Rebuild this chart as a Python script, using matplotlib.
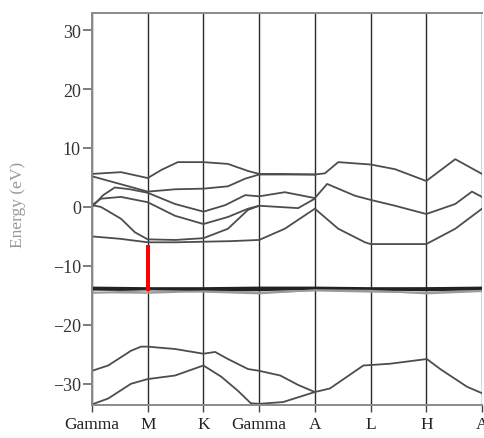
import numpy as np
import matplotlib.pyplot as plt

plt.rcParams['font.family'] = ['Liberation Serif', 'DejaVu Serif']

# high-symmetry path, equally spaced segments
kpoints = [0, 1, 2, 3, 4, 5, 6, 7]
klabels = ['Gamma', 'M', 'K', 'Gamma', 'A', 'L', 'H', 'A']

# valence / conduction bands near the gap (k, E in eV)
b1_k = [0, 0.52, 1, 1.25, 1.54, 2, 2.44, 2.8, 3, 3.38, 4, 4.18, 4.42, 5, 5.44, 6, 6.52, 7]
b1_e = [5.6, 5.9, 4.9, 6.3, 7.6, 7.6, 7.3, 6.1, 5.6, 5.6, 5.5, 5.7, 7.6, 7.2, 6.4, 4.4, 8.1, 5.6]

b2_k = [0, 0.5, 1, 1.5, 2, 2.44, 2.75, 3, 4]
b2_e = [5.2, 3.9, 2.6, 3.0, 3.1, 3.5, 4.8, 5.5, 5.5]

b3_k = [0, 0.2, 0.41, 0.68, 1, 1.49, 2, 2.39, 2.75, 3, 3.46, 4, 4.22, 4.72, 5, 5.44, 6, 6.52, 6.82, 7]
b3_e = [0.0, 2.0, 3.3, 3.0, 2.4, 0.5, -0.8, 0.3, 2.0, 1.8, 2.5, 1.5, 3.9, 1.9, 1.2, 0.2, -1.2, 0.5, 2.6, 1.7]

b4_k = [0, 0.16, 0.52, 1, 1.49, 2, 2.44, 2.8, 3, 3.7, 4]
b4_e = [0.3, 1.4, 1.7, 0.8, -1.5, -2.9, -1.7, -0.3, 0.2, -0.2, 1.4]

b5_k = [0, 0.16, 0.52, 0.77, 1, 1.5, 2, 2.44, 2.8, 3]
b5_e = [0.3, 0.0, -2.0, -4.3, -5.5, -5.6, -5.3, -3.7, -0.5, 0.2]

b6_k = [0, 0.5, 1, 1.5, 2, 2.5, 3, 3.46, 4, 4.42, 4.9, 5, 6, 6.52, 7]
b6_e = [-5.0, -5.4, -6.0, -6.0, -5.9, -5.8, -5.6, -3.7, -0.3, -3.7, -6.0, -6.3, -6.3, -3.7, -0.3]

# flat semicore d bands
d_k = [0, 1, 2, 3, 4, 5, 6, 7]
d1_e = [-13.7, -13.8, -13.8, -13.7, -13.7, -13.8, -13.8, -13.7]
d2_e = [-13.9, -14.0, -14.0, -13.9, -13.9, -14.0, -13.9, -13.9]
d3_e = [-14.0, -14.1, -14.2, -14.1, -13.9, -14.0, -14.1, -14.0]
d4_e = [-14.6, -14.2, -14.4, -14.7, -14.1, -14.2, -14.7, -14.3]
d5_e = [-14.5, -14.6, -14.3, -14.5, -14.2, -14.4, -14.5, -14.2]

# deep s bands
s1_k = [0, 0.29, 0.7, 0.88, 1, 1.49, 2, 2.21, 2.44, 2.8, 3, 3.38, 3.7, 4, 4.27, 4.87, 5.35, 6.01, 6.25, 6.73, 7]
s1_e = [-27.8, -26.9, -24.4, -23.7, -23.7, -24.1, -24.9, -24.6, -25.8, -27.5, -27.8, -28.6, -30.2, -31.4,
        -30.8, -26.9, -26.6, -25.8, -27.5, -30.5, -31.6]

s2_k = [0, 0.29, 0.7, 1, 1.49, 2, 2.32, 2.62, 2.85, 3, 3.43, 4]
s2_e = [-33.5, -32.5, -30.0, -29.2, -28.6, -26.9, -28.8, -31.2, -33.3, -33.4, -33.1, -31.4]

# gap marker at M
gap_k = 1
gap_top = -6.4
gap_bottom = -14.3

fig = plt.figure(figsize=(4.85, 4.39), dpi=100)
ax = fig.add_axes([92/485, 1-406/439, 390/485, 392/439])

band_color = '#4d4d4d'
bands = [(b1_k, b1_e), (b2_k, b2_e), (b3_k, b3_e), (b4_k, b4_e), (b5_k, b5_e), (b6_k, b6_e),
         (s1_k, s1_e), (s2_k, s2_e)]
for kk, ee in bands:
    ax.plot(kk, ee, color=band_color, lw=1.3)
for ee in [d1_e, d2_e, d3_e]:
    ax.plot(d_k, ee, color='#222222', lw=1.6)
for ee in [d4_e, d5_e]:
    ax.plot(d_k, ee, color='#9a9a9a', lw=1.2)

for kp in kpoints:
    ax.axvline(kp, color='#2a2a2a', lw=1.0, zorder=1)

ax.plot([gap_k, gap_k], [gap_top, gap_bottom], color='red', lw=2.9,
        solid_capstyle='butt', zorder=5)

ax.set_xlim(0, 7)
ax.set_ylim(-33.6, 32.9)
ax.set_xticks(kpoints)
ax.set_xticklabels(klabels)
ax.set_yticks([-30, -20, -10, 0, 10, 20, 30])

for side in ['left', 'top', 'bottom']:
    ax.spines[side].set_color('#8a8a8a')
    ax.spines[side].set_linewidth(1.4)
ax.spines['right'].set_visible(False)

ax.tick_params(axis='y', direction='out', length=6.5, width=1.2, color='#666666',
               labelsize=13, labelcolor='#333333', pad=1.5)
ax.tick_params(axis='x', direction='out', length=5, width=1.0, color='#444444',
               labelsize=12.5, labelcolor='#222222', pad=3)

fig.text(18/485, 1-205/439, 'Energy (eV)', rotation=90, ha='center', va='center',
         fontsize=12.5, color='#999999')

fig.savefig('out.png', dpi=100)
